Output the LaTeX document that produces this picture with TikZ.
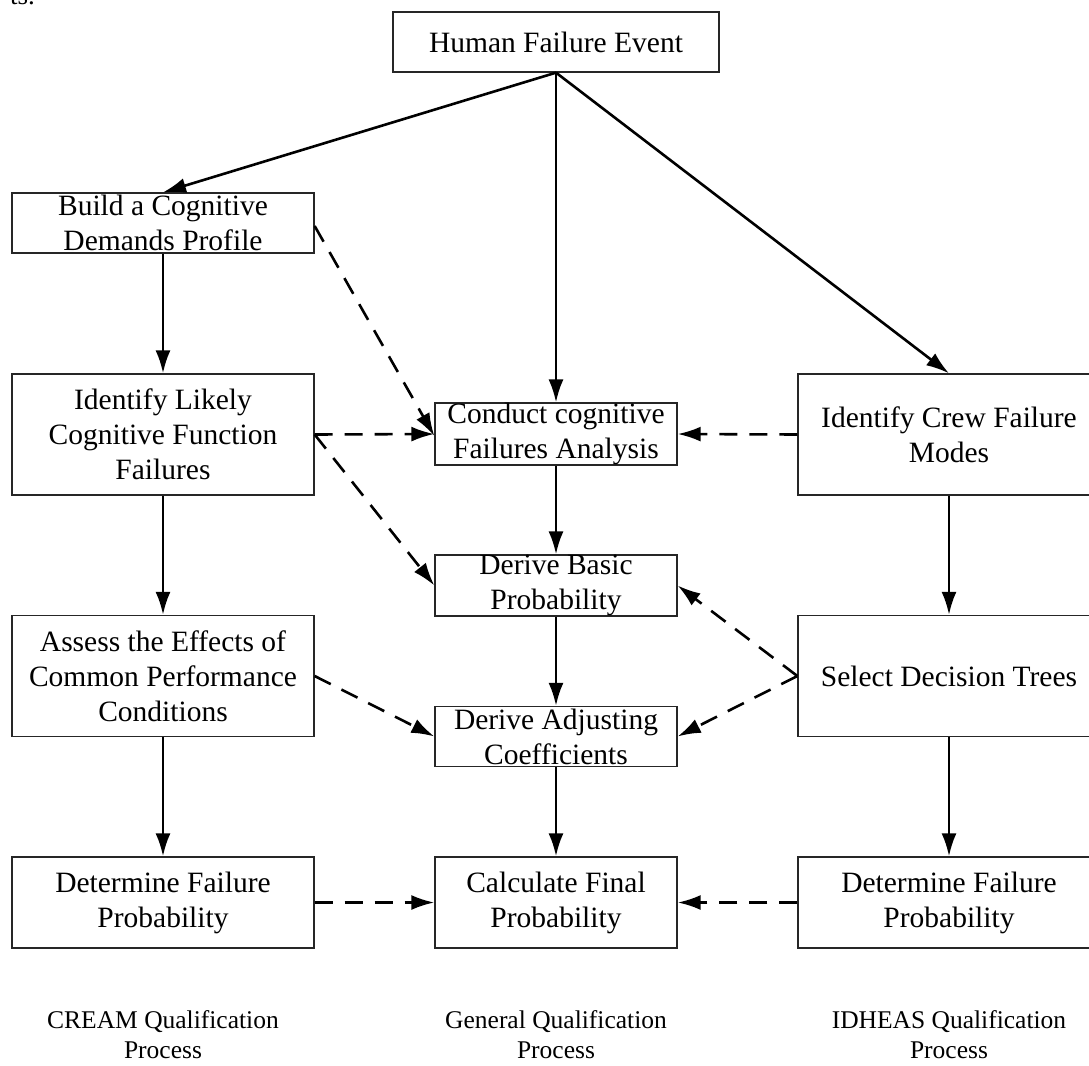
\documentclass[tikz,border=0pt]{standalone}
\usepackage{fontspec}
\setmainfont{Liberation Serif}
\usetikzlibrary{arrows.meta}
\newcommand\myboxfont{\fontsize{29.5}{35}\selectfont}
\newcommand\mylabfont{\fontsize{25.5}{30}\selectfont}
\begin{document}
\begin{tikzpicture}[x=1pt,y=-1pt,
  box/.style={draw=black!85, line width=1.3pt, inner sep=0pt, align=center, font=\myboxfont},
  lab/.style={inner sep=0pt, align=center, font=\mylabfont},
  solidarrow/.style={line width=2.6pt, -{Latex[length=23pt,width=15pt]}},
  dasharrow/.style={line width=2.6pt, dash pattern=on 18pt off 12pt, -{Latex[length=23pt,width=15pt]}}]
\useasboundingbox (0,0) rectangle (1089,1065);
\node[lab, anchor=base east, font=\fontsize{27}{30}\selectfont] (frag) at (35,5) {ts.};
% top
\node[box, minimum width=326pt, minimum height=60pt] (hfe) at (556,42) {Human Failure Event};
% left column
\node[box, minimum width=302pt, minimum height=60pt] (build) at (163,223) {Build a Cognitive\\Demands Profile};
\node[box, minimum width=302pt, minimum height=121pt] (likely) at (163,434.5) {Identify Likely\\Cognitive Function\\Failures};
\node[box, minimum width=302pt, minimum height=121pt] (assess) at (163,676) {Assess the Effects of\\Common Performance\\Conditions};
\node[box, minimum width=302pt, minimum height=91pt] (detl) at (163,902.5) {Determine Failure\\Probability};
% middle column
\node[box, minimum width=242pt, minimum height=60pt] (conduct) at (556,434) {Conduct cognitive\\Failures Analysis};
\node[box, minimum width=242pt, minimum height=60pt] (basic) at (556,585.5) {Derive Basic\\Probability};
\node[box, minimum width=242pt, minimum height=60pt] (adjust) at (556,736.5) {Derive Adjusting\\Coefficients};
\node[box, minimum width=242pt, minimum height=91pt] (calc) at (556,902.5) {Calculate Final\\Probability};
% right column
\node[box, minimum width=302pt, minimum height=121pt] (crew) at (949,434.5) {Identify Crew Failure\\Modes};
\node[box, minimum width=302pt, minimum height=121pt] (select) at (949,676) {Select Decision Trees};
\node[box, minimum width=302pt, minimum height=91pt] (detr) at (949,902.5) {Determine Failure\\Probability};
% bottom labels
\node[lab] (cream) at (163,1035) {CREAM Qualification\\Process};
\node[lab] (general) at (556,1035) {General Qualification\\Process};
\node[lab] (idheas) at (949,1035) {IDHEAS Qualification\\Process};
% solid connectors
\draw[solidarrow] (hfe.south) -- (build.north);
\draw[solidarrow] (hfe.south) -- (conduct.north);
\draw[solidarrow] (hfe.south) -- (crew.north);
\draw[solidarrow] (build.south) -- (likely.north);
\draw[solidarrow] (likely.south) -- (assess.north);
\draw[solidarrow] (assess.south) -- (detl.north);
\draw[solidarrow] (conduct.south) -- (basic.north);
\draw[solidarrow] (basic.south) -- (adjust.north);
\draw[solidarrow] (adjust.south) -- (calc.north);
\draw[solidarrow] (crew.south) -- (select.north);
\draw[solidarrow] (select.south) -- (detr.north);
% dashed connectors
\draw[dasharrow] ([yshift=-3pt]build.east) -- ([yshift=-2pt]conduct.west);
\draw[dasharrow] (likely.east) -- (conduct.west);
\draw[dasharrow] (likely.east) -- (basic.west);
\draw[dasharrow] (crew.west) -- (conduct.east);
\draw[dasharrow] (select.west) -- (basic.east);
\draw[dasharrow] (select.west) -- (adjust.east);
\draw[dasharrow] (assess.east) -- (adjust.west);
\draw[dasharrow] (detl.east) -- (calc.west);
\draw[dasharrow] (detr.west) -- (calc.east);
\end{tikzpicture}
\end{document}
